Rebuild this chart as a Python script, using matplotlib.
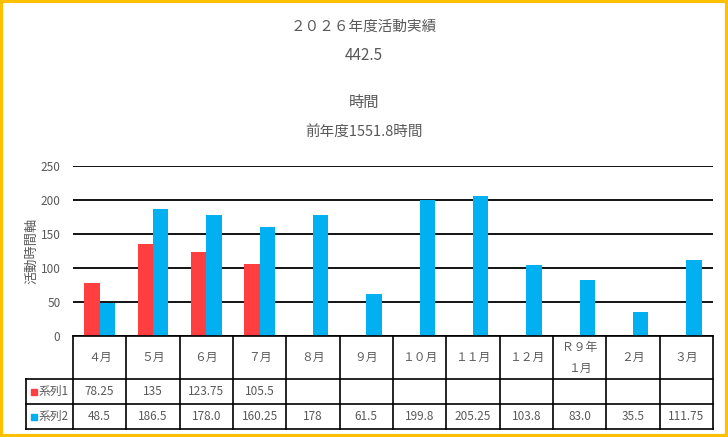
import numpy as np
import matplotlib.pyplot as plt
from matplotlib.patches import Rectangle

plt.rcParams['font.family'] = ['Noto Sans CJK JP', 'DejaVu Sans']

# data
months = ['４月', '５月', '６月', '７月', '８月', '９月', '１０月', '１１月',
          '１２月', 'Ｒ９年\n１月', '２月', '３月']
series1 = [78.25, 135, 123.75, 105.5]
series2 = [48.5, 186.5, 178.0, 160.25, 178, 61.5, 199.8, 205.25, 103.8, 83.0, 35.5, 111.75]
series1_labels = ['78.25', '135', '123.75', '105.5']
series2_labels = ['48.5', '186.5', '178.0', '160.25', '178', '61.5', '199.8', '205.25',
                  '103.8', '83.0', '35.5', '111.75']
series_names = ['系列1', '系列2']
title_lines = ['２０２６年度活動実績', '442.5', '時間', '前年度1551.8時間']

red = '#FF3F3F'
blue = '#00B0F0'
grey = '#595959'

W, H = 728, 437
fig = plt.figure(figsize=(W / 100, H / 100), dpi=100)

def px(x0, y0, x1, y1):
    # pixel box (top-left origin) -> figure fraction rect
    return [x0 / W, 1 - y1 / H, (x1 - x0) / W, (y1 - y0) / H]

# main bar axes
ax = fig.add_axes(px(73, 166, 713, 336))
x = np.arange(len(months))
bw = 0.285
ax.bar(x[:len(series1)] - bw / 2, series1, bw, color=red, zorder=3)
ax.bar(x + bw / 2, series2, bw, color=blue, zorder=3)
ax.set_xlim(-0.5, len(months) - 0.5)
ax.set_ylim(0, 250)
ax.set_yticks(np.arange(0, 251, 50))
ax.yaxis.grid(True, color='black', linewidth=1.3)
ax.set_axisbelow(True)
ax.tick_params(axis='y', length=0, labelsize=8.5, colors=grey, pad=9)
ax.set_xticks([])
for s in ax.spines.values():
    s.set_visible(False)
ax.set_ylabel('活動時間軸', color=grey, fontsize=9.5)
ax.yaxis.set_label_coords(-0.054, 0.5)

# data table below the plot
tax = fig.add_axes(px(26, 336, 713, 429))
unit = 640 / len(months)
left = -0.5 - 47 / unit
tax.set_xlim(left, len(months) - 0.5)
tax.set_ylim(0, 93)
tax.axis('off')
lw = 1.2
rows = [0, 25, 50, 93]
for yb in rows[:3]:
    tax.plot([left, len(months) - 0.5], [yb, yb], color='black', lw=lw, clip_on=False)
tax.plot([-0.5, len(months) - 0.5], [93, 93], color='black', lw=lw, clip_on=False)
tax.plot([left, left], [0, 50], color='black', lw=lw, clip_on=False)
for b in np.arange(-0.5, len(months), 1.0):
    tax.plot([b, b], [0, 93], color='black', lw=lw, clip_on=False)

for i, m in enumerate(months):
    tax.text(i, 71.5, m, ha='center', va='center', fontsize=8.5, color=grey,
             linespacing=1.8)
for i, s in enumerate(series1_labels):
    tax.text(i, 37.5, s, ha='center', va='center', fontsize=8.5, color=grey)
for i, s in enumerate(series2_labels):
    tax.text(i, 12.5, s, ha='center', va='center', fontsize=8.5, color=grey)

for yc, name, col in [(37.5, series_names[0], red), (12.5, series_names[1], blue)]:
    tax.add_patch(Rectangle((left + 5 / unit, yc - 3), 6 / unit, 6, color=col, clip_on=False))
    tax.text(left + 13 / unit, yc, name, ha='left', va='center', fontsize=8.5, color=grey)

# titles
fig.text(0.5, 1 - 27 / H, title_lines[0], ha='center', va='center', fontsize=10.5, color=grey)
fig.text(0.5, 1 - 55 / H, title_lines[1], ha='center', va='center', fontsize=11, color=grey)
fig.text(0.5, 1 - 102 / H, title_lines[2], ha='center', va='center', fontsize=11, color=grey)
fig.text(0.5, 1 - 133 / H, title_lines[3], ha='center', va='center', fontsize=10.5, color=grey)

# outer yellow frame
fig.patches.append(Rectangle((0.002, 0.003), 0.996, 0.994, transform=fig.transFigure,
                             fill=False, edgecolor='#FFC000', linewidth=3))

fig.savefig('out.png', dpi=100)
